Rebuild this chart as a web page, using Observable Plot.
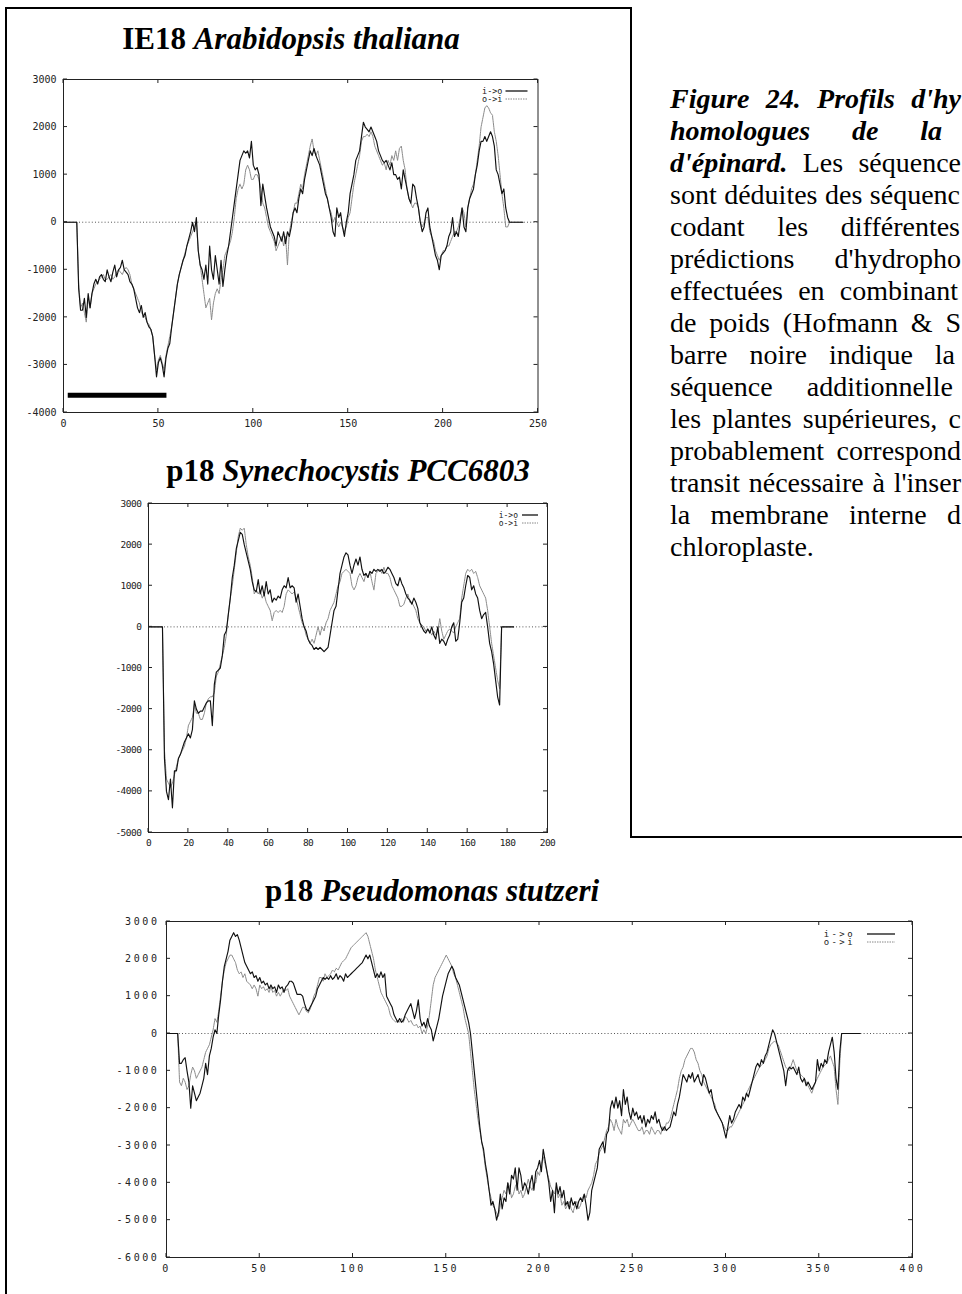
<!DOCTYPE html>
<html><head><meta charset="utf-8">
<script src="https://cdn.jsdelivr.net/npm/d3@7"></script>
<script src="https://cdn.jsdelivr.net/npm/@observablehq/plot@0.6"></script>
<style>
html,body{margin:0;padding:0;width:962px;height:1294px;overflow:hidden;background:#fff;}
.rule{position:absolute;background:#000;}
.title{position:absolute;font-family:"Liberation Serif","Times New Roman",serif;font-weight:bold;font-size:31px;line-height:31px;white-space:nowrap;color:#000;text-align:center;width:600px;}
.title i{font-style:italic;}
.cap{position:absolute;left:670px;font-family:"Liberation Serif","Times New Roman",serif;font-size:28px;line-height:32px;height:32px;text-align:justify;text-align-last:justify;color:#000;white-space:normal;}
.cap.last{text-align:left;text-align-last:left;}
.cap b{font-weight:bold;font-style:italic;}
.p3 g[aria-label="x-axis tick label"] text,.p3 g[aria-label="y-axis tick label"] text{letter-spacing:2.6px;}
.p2 g[aria-label="x-axis tick label"] text,.p2 g[aria-label="y-axis tick label"] text{letter-spacing:-0.5px;}
</style></head><body>
<script>
// ---------------- DATA ----------------
const legendLabels = ["i->o", "o->i"];

const ie18Title = ["IE18", "Arabidopsis thaliana"];
const synTitle = ["p18", "Synechocystis PCC6803"];
const pseTitle = ["p18", "Pseudomonas stutzeri"];

// IE18 Arabidopsis thaliana, hydropathy per residue (residue = index)
const ie18_io = [
0,0,0,0,0,0,0,0,
-1400,-1850,-1850,-1600,-2000,-1500,-1800,-1500,-1300,-1200,
-1300,-1150,-1100,-1200,-1250,-1000,-1150,-1250,-1050,-900,
-1150,-1000,-950,-800,-1000,-1050,-1100,-1250,-1300,-1400,
-1600,-1800,-1900,-1750,-2000,-1900,-2100,-2200,-2250,-2400,
-2800,-3250,-2950,-2850,-3000,-3250,-2850,-2650,-2550,-2200,
-1900,-1600,-1300,-1100,-950,-800,-700,-500,-350,-200,
0,-200,100,-600,-900,-1000,-1200,-900,-1300,-500,
-1000,-1200,-700,-1000,-1300,-800,-1350,-1000,-700,-500,
-200,100,400,700,1000,1300,1400,1500,1450,1500,
1350,1700,1200,1100,1150,1000,350,800,550,300,
100,-100,-200,-300,-500,-200,-300,-400,-200,-450,
-200,-300,-100,200,300,200,500,700,600,900,
1100,1300,1500,1400,1550,1400,1300,1200,1000,800,
600,500,300,100,-200,-300,300,100,200,-100,
-300,0,200,600,800,1000,1300,1400,1500,1800,
2100,2000,1950,1900,2000,1900,1800,1700,1500,1400,
1300,1250,1300,1200,1100,1250,1000,1000,900,950,
700,1100,900,700,500,400,800,750,500,300,
0,-200,-100,200,300,-100,-300,-500,-700,-800,
-1000,-700,-650,-600,-500,-300,-200,100,-300,-200,
-300,0,300,-100,-200,300,500,600,700,1000,
1200,1500,1700,1700,1800,1700,1800,1900,1800,1600,
1100,1000,800,600,700,300,100,0,
0,0,0,0,0,0,0];
const ie18_oi = [
0,0,0,0,0,0,0,0,
-1300,-1800,-1700,-1900,-2100,-1600,-1800,-1500,-1400,-1300,
-1250,-1200,-1150,-1100,-1200,-1200,-1150,-1100,-1200,-1150,
-1050,-1000,-1050,-1100,-1000,-950,-1000,-1100,-1300,-1400,
-1500,-1600,-1700,-1900,-1950,-2000,-2100,-2150,-2250,-2400,
-2800,-3100,-2900,-2800,-2950,-3100,-2800,-2600,-2400,-2200,
-1900,-1600,-1300,-1100,-950,-800,-650,-500,-400,-300,
-200,-100,0,-600,-900,-1200,-1500,-1800,-1700,-1600,
-2050,-1700,-1500,-1400,-1500,-1200,-1000,-700,-600,-500,
-400,-200,100,500,700,800,700,800,1100,1200,
1100,900,900,1000,1000,900,700,400,300,100,
-100,-200,-300,-400,-600,-500,-400,-300,-500,-300,
-900,-200,0,200,400,400,600,800,700,1000,
1200,1400,1600,1750,1500,1400,1500,1300,1100,900,
700,500,300,200,0,100,0,-100,0,-100,
-200,-100,100,200,500,800,1000,1200,1400,1700,
1800,1800,1850,1800,1900,1800,1600,1500,1400,1300,
1200,1250,1100,1300,1200,1400,1300,1500,1300,1550,
1600,1300,1100,700,500,400,300,400,400,300,
0,-100,0,100,100,-200,-300,-400,-600,-700,
-800,-700,-600,-600,-500,-500,-400,-300,-200,-200,
-100,100,300,200,-100,300,500,700,800,1000,
1300,1600,2000,2200,2400,2450,2400,2300,2250,1900,
1700,1400,1000,600,300,-100,-100,0,
0,0,0,0,0,0,0];
// black bar: additional N-terminal sequence of higher plants
const transitBar = [{x1: 2.5, x2: 54.5, y: -3640}];

// p18 Synechocystis PCC6803
const syn_io = [
0,0,0,0,0,0,0,0,
-3200,-4000,-4200,-3700,-4400,-3500,-3500,-3200,-3100,-2950,
-2800,-2700,-2600,-2700,-2500,-1800,-2000,-2100,-2050,-2050,
-1950,-1850,-1800,-1800,-2400,-1400,-1100,-1050,-1000,-700,
-200,-100,300,700,1200,1500,1900,2100,2300,2250,
2000,1800,1600,1400,1100,900,850,1150,800,1000,
750,1100,800,900,600,700,650,750,700,900,
1000,950,1200,950,1000,950,600,800,500,200,
0,-100,-300,-400,-450,-550,-500,-550,-500,-550,
-600,-550,-500,-200,100,400,500,900,1300,1500,
1700,1800,1750,1500,1300,1500,1650,1500,1700,1400,
1250,1300,1200,1350,1300,1400,1350,1400,1350,1400,
1300,1350,1450,1400,1300,1200,1050,1000,1200,1050,
950,800,700,650,550,700,600,450,100,0,
-100,-150,-50,-150,0,-200,-300,0,-400,-300,
-350,-450,-300,-200,0,100,-350,-300,100,600,
700,1000,1250,1200,900,1000,800,700,400,200,
300,350,0,-400,-600,-900,-1300,-1700,-1900,0,
0,0,0,0,0,0];
const syn_oi = [
0,0,0,0,0,0,0,0,
-3000,-3700,-3800,-3900,-3800,-3600,-3400,-3200,-3100,-3000,
-2900,-2700,-2400,-2300,-2200,-1900,-2100,-2100,-2250,-2250,
-2100,-1850,-1750,-1700,-1700,-1600,-1200,-1100,-900,-700,
-500,-200,300,700,1000,1400,1800,2200,2400,2350,
2400,2000,1700,1500,1200,800,900,800,900,700,
800,600,500,400,150,350,400,350,400,350,
500,800,900,850,800,850,700,500,300,100,
0,-200,-300,-400,-300,-400,-200,0,-200,0,
-100,100,200,400,500,600,800,1000,1100,1300,
1350,1400,1350,1300,1000,900,1000,1200,1300,1200,
1100,1300,1200,1350,1100,900,1300,1350,1400,1300,
1450,1300,1300,1200,1000,900,800,700,500,500,
550,700,800,600,600,500,400,200,100,50,
0,-100,-50,-100,-200,-100,-200,-100,200,-100,
-300,-200,-100,-50,-100,-150,0,100,200,700,
1000,1300,1400,1350,1400,1300,1350,1200,1000,900,
800,700,400,0,-400,-700,-1000,-1300,-1500,0,
0,0,0,0,0,0];

// p18 Pseudomonas stutzeri
const pse_io = [
0,0,0,0,0,0,0,
-800,-800,-700,-650,-1000,-1300,-2000,-1400,-1600,-1800,
-1700,-1600,-1400,-1200,-800,-1100,-600,-400,-100,100,
0,500,900,1400,1800,2000,2200,2500,2600,2700,
2600,2650,2500,2300,2100,1900,1800,1700,1600,1650,
1500,1550,1400,1500,1350,1400,1300,1350,1200,1300,
1200,1250,1100,1300,1200,1250,1100,1250,1300,1400,
1400,1350,1200,1050,1050,1050,1000,800,650,600,
700,800,900,1000,1200,1300,1400,1500,1450,1500,
1450,1550,1450,1500,1600,1450,1550,1500,1400,1600,
1500,1550,1600,1650,1700,1750,1800,1850,1900,2000,
2100,2000,2100,1900,1700,1500,1600,1500,1650,1500,
1600,1000,900,800,700,500,400,300,400,300,
350,500,600,700,800,600,400,600,900,400,
200,300,150,400,200,100,-200,0,200,400,
700,1000,1200,1400,1600,1700,1800,1700,1500,1400,
1300,1100,900,700,500,300,0,-500,-1000,-1500,
-2000,-2500,-2900,-3100,-3500,-3800,-4200,-4600,-4500,-4700,
-5000,-4800,-4300,-4700,-4400,-4500,-4000,-4300,-3800,-3900,
-3600,-4200,-3600,-3800,-4200,-4000,-4100,-4300,-4000,-3800,
-4200,-3700,-3600,-3400,-3700,-3100,-3400,-3700,-4000,-4500,
-4200,-4800,-4000,-4300,-4100,-4400,-4200,-4600,-4500,-4700,
-4400,-4600,-4500,-4700,-4500,-4400,-4500,-4300,-4600,-5000,
-4800,-4200,-4000,-3800,-3600,-3100,-3000,-2900,-3200,-2700,
-2600,-2000,-1800,-2000,-1700,-2000,-1800,-2200,-1500,-1900,
-1700,-2100,-2300,-2000,-2200,-2100,-2300,-2200,-2400,-2200,
-2500,-2300,-2400,-2200,-2300,-2100,-2400,-2300,-2500,-2600,
-2500,-2600,-2550,-2500,-2300,-2100,-2200,-1900,-1700,-1400,
-1100,-1200,-1300,-1100,-1200,-1050,-1300,-1200,-1100,-1300,
-1400,-1100,-1200,-1400,-1600,-1500,-1800,-2000,-2100,-2200,
-2300,-2400,-2600,-2800,-2500,-2200,-2400,-2300,-2100,-2000,
-1900,-2000,-1700,-1800,-1600,-1700,-1500,-1300,-1100,-900,
-800,-900,-700,-800,-600,-500,-300,-100,100,0,
-200,-400,-600,-800,-1000,-1400,-1000,-900,-950,-900,
-1000,-1100,-900,-1200,-1300,-1200,-1400,-1300,-1400,-1500,
-1400,-1300,-700,-1000,-800,-900,-700,-800,-500,-300,
-100,-500,-1200,-1500,-500,
0,0,0,0,0,0,0,0,0,0,0];
const pse_oi = [
0,0,0,0,0,0,0,
-1300,-1400,-1200,-1300,-1500,-1400,-1100,-900,-1000,-1200,
-1100,-1000,-900,-700,-500,-400,-300,-100,100,400,
300,600,1000,1400,1700,1900,2000,2100,2100,2000,
1900,1700,1600,1650,1500,1600,1400,1350,1300,1200,
1300,1200,1000,1300,1200,1250,1150,1200,1100,1250,
1100,1150,1000,1100,1000,1100,1200,1150,1200,1000,
900,800,700,600,500,600,700,700,600,550,
650,800,1000,1100,1300,1500,1500,1400,1600,1500,
1550,1600,1700,1650,1750,1700,1800,1900,1950,2000,
2100,2200,2300,2350,2400,2450,2500,2550,2600,2650,
2700,2600,2400,2200,2000,1700,1500,1300,1100,1000,
900,800,700,500,400,350,300,350,300,400,
300,450,400,300,350,250,200,250,150,200,
0,100,0,200,500,900,1300,1500,1600,1700,
1800,1900,2000,2100,2000,1900,1800,1600,1500,1300,
1100,900,700,400,200,0,-500,-1000,-1500,-1900,
-2300,-2600,-2900,-3200,-3600,-3900,-4200,-4400,-4600,-4700,
-4800,-4900,-4600,-4400,-4200,-4300,-4000,-4100,-4400,-4300,
-4100,-4000,-4300,-4200,-4400,-4300,-4100,-3900,-4100,-4200,
-4000,-4000,-3700,-3800,-3500,-3300,-3500,-3700,-3900,-4100,
-4200,-4300,-4100,-4400,-4300,-4600,-4500,-4700,-4600,-4500,
-4700,-4800,-4600,-4500,-4700,-4600,-4400,-4300,-4400,-4200,
-4100,-4000,-3800,-3500,-3400,-3200,-3100,-3000,-2800,-2600,
-2500,-2300,-2400,-2600,-2300,-2500,-2600,-2700,-2300,-2400,
-2300,-2500,-2400,-2300,-2400,-2500,-2600,-2600,-2500,-2700,
-2600,-2600,-2700,-2500,-2600,-2700,-2600,-2600,-2700,-2500,
-2600,-2400,-2400,-2300,-2100,-1900,-1700,-1500,-1200,-1000,
-900,-700,-600,-500,-400,-400,-500,-700,-800,-1000,
-1100,-1300,-1400,-1500,-1600,-1700,-1800,-1900,-2100,-2200,
-2300,-2400,-2500,-2600,-2600,-2500,-2500,-2400,-2300,-2200,
-2100,-2000,-1900,-1800,-1600,-1500,-1400,-1300,-1200,-1100,
-1000,-900,-850,-800,-700,-600,-400,-300,-250,-200,
-250,-300,-450,-600,-750,-900,-950,-1000,-850,-700,
-850,-1000,-1050,-1100,-1150,-1200,-1300,-1400,-1500,-1600,
-1450,-1300,-1200,-1100,-1000,-900,-850,-800,-700,-600,
-750,-900,-1500,-1900,-800,
0,0,0,0,0,0,0,0,0,0,0];

// tick values
const ie18_xTicks = [0, 50, 100, 150, 200, 250];
const ie18_yTicks = [-4000, -3000, -2000, -1000, 0, 1000, 2000, 3000];
const syn_xTicks = [0, 20, 40, 60, 80, 100, 120, 140, 160, 180, 200];
const syn_yTicks = [-5000, -4000, -3000, -2000, -1000, 0, 1000, 2000, 3000];
const pse_xTicks = [0, 50, 100, 150, 200, 250, 300, 350, 400];
const pse_yTicks = [-6000, -5000, -4000, -3000, -2000, -1000, 0, 1000, 2000, 3000];

// caption lines (as visible; the original block is cut at the right edge)
const captionLines = [
  {html: "<b>Figure 24. Profils d'hy</b>", right: 961},
  {html: "<b>homologues de la</b>", right: 942},
  {html: "<b>d'épinard.</b> Les séquence", right: 961},
  {html: "sont déduites des séquenc", right: 960},
  {html: "codant les différentes", right: 960},
  {html: "prédictions d'hydropho", right: 961},
  {html: "effectuées en combinant", right: 958},
  {html: "de poids (Hofmann &amp; S", right: 961},
  {html: "barre noire indique la", right: 955},
  {html: "séquence additionnelle", right: 953},
  {html: "les plantes supérieures, c", right: 961},
  {html: "probablement correspond", right: 961},
  {html: "transit nécessaire à l'inser", right: 961},
  {html: "la membrane interne d", right: 961},
  {html: "chloroplaste.", right: null}
];

// ---------------- LAYOUT ----------------
const NS = "http://www.w3.org/2000/svg";
function rule(l, t, w, h) {
  const d = document.createElement("div");
  d.className = "rule";
  Object.assign(d.style, {left: l + "px", top: t + "px", width: w + "px", height: h + "px"});
  document.body.appendChild(d);
}
rule(5, 7, 2, 1287);
rule(5, 7, 627, 2);
rule(630, 7, 2, 831);
rule(630, 836, 332, 2);

function title(parts, cx, top) {
  const d = document.createElement("div");
  d.className = "title";
  d.style.left = (cx - 300) + "px";
  d.style.top = top + "px";
  d.innerHTML = parts[0] + " <i>" + parts[1] + "</i>";
  document.body.appendChild(d);
}
title(ie18Title, 291, 23);
title(synTitle, 348, 455);
title(pseTitle, 432, 875);

captionLines.forEach((ln, i) => {
  const d = document.createElement("div");
  d.className = "cap" + (ln.right === null ? " last" : "");
  d.style.top = (83 + i * 32) + "px";
  d.style.width = (ln.right === null ? 280 : ln.right - 670) + "px";
  d.innerHTML = ln.html;
  document.body.appendChild(d);
});

function innerTicks(xt, yt, len) {
  return (index, scales, values, dims) => {
    const x0 = dims.marginLeft, x1 = dims.width - dims.marginRight;
    const y0 = dims.marginTop, y1 = dims.height - dims.marginBottom;
    let d = "";
    for (const t of xt) { const p = scales.x(t); d += `M${p},${y1}v${-len}M${p},${y0}v${len}`; }
    for (const t of yt) { const p = scales.y(t); d += `M${x0},${p}h${len}M${x1},${p}h${-len}`; }
    const path = document.createElementNS(NS, "path");
    path.setAttribute("d", d);
    path.setAttribute("stroke", "#222");
    path.setAttribute("fill", "none");
    path.setAttribute("stroke-width", "1");
    return path;
  };
}

function legendMark(cfg) {
  return (index, scales, values, dims) => {
    const g = document.createElementNS(NS, "g");
    const xr = dims.width - dims.marginRight, yt = dims.marginTop;
    legendLabels.forEach((lab, k) => {
      const y = yt + cfg.y0 + k * cfg.dy;
      const t = document.createElementNS(NS, "text");
      t.textContent = lab;
      t.setAttribute("x", xr + cfg.textEnd);
      t.setAttribute("y", y);
      t.setAttribute("dy", "0.32em");
      t.setAttribute("text-anchor", "end");
      t.setAttribute("font-family", "DejaVu Sans Mono, monospace");
      t.setAttribute("font-size", cfg.fontSize);
      t.setAttribute("fill", "#222");
      if (cfg.spacing) t.setAttribute("letter-spacing", cfg.spacing);
      g.appendChild(t);
      const l = document.createElementNS(NS, "line");
      l.setAttribute("x1", xr + cfg.s0); l.setAttribute("x2", xr + cfg.s1);
      l.setAttribute("y1", y); l.setAttribute("y2", y);
      l.setAttribute("stroke", k === 0 ? "#111" : "#888");
      l.setAttribute("stroke-width", k === 0 ? 1.3 : 1);
      if (k === 1) l.setAttribute("stroke-dasharray", "1.5,1");
      g.appendChild(l);
    });
    return g;
  };
}

function profile(o) {
  const [L, T, R, B] = o.frame;
  const m = {l: 60, r: 14, t: 10, b: 26};
  const io = o.io.map((v, i) => ({res: i, v}));
  const oi = o.oi.map((v, i) => ({res: i, v}));
  const font = {fontFamily: "DejaVu Sans Mono, monospace", fontSize: o.fontSize, fill: "#222"};
  const chart = Plot.plot({
    width: R - L + m.l + m.r, height: B - T + m.t + m.b,
    marginLeft: m.l, marginRight: m.r, marginTop: m.t, marginBottom: m.b,
    className: o.cls,
    style: {background: "transparent", overflow: "visible"},
    x: {domain: o.xDomain, label: null},
    y: {domain: o.yDomain, label: null},
    marks: [
      Plot.ruleY([0], {stroke: "#555", strokeWidth: 1, strokeDasharray: "1,2.2"}),
      Plot.line(oi, {x: "res", y: "v", stroke: "#8a8a8a", strokeWidth: 1, strokeDasharray: "1.6,0.8"}),
      Plot.line(io, {x: "res", y: "v", stroke: "#111", strokeWidth: 1.15}),
      ...(o.extras || []),
      Plot.frame({stroke: "#222", strokeWidth: 1}),
      innerTicks(o.xTicks, o.yTicks, 4),
      Plot.axisX(o.xTicks, {label: null, tickSize: 0, tickPadding: 7, tickFormat: d => String(d), ...font}),
      Plot.axisY(o.yTicks, {label: null, tickSize: 0, tickPadding: 7, tickFormat: d => String(d), ...font}),
      legendMark(o.legend)
    ]
  });
  chart.style.position = "absolute";
  chart.style.left = (L - m.l) + "px";
  chart.style.top = (T - m.t) + "px";
  document.body.appendChild(chart);
}

profile({
  io: ie18_io, oi: ie18_oi, frame: [62.5, 79, 537, 412], cls: "p1",
  xDomain: [0, 250], yDomain: [-4000, 3000], xTicks: ie18_xTicks, yTicks: ie18_yTicks, fontSize: 10,
  legend: {y0: 12, dy: 8, textEnd: -35, s0: -32, s1: -10, fontSize: 8.5},
  extras: [Plot.ruleY(transitBar, {x1: "x1", x2: "x2", y: "y", stroke: "#000", strokeWidth: 5})]
});
profile({
  io: syn_io, oi: syn_oi, frame: [148, 503, 547, 832], cls: "p2",
  xDomain: [0, 200], yDomain: [-5000, 3000], xTicks: syn_xTicks, yTicks: syn_yTicks, fontSize: 9.5,
  legend: {y0: 12, dy: 8, textEnd: -29, s0: -25, s1: -9, fontSize: 8}
});
profile({
  io: pse_io, oi: pse_oi, frame: [166, 921, 912, 1257], cls: "p3",
  xDomain: [0, 400], yDomain: [-6000, 3000], xTicks: pse_xTicks, yTicks: pse_yTicks, fontSize: 10,
  legend: {y0: 13, dy: 8, textEnd: -57, s0: -45, s1: -17, fontSize: 9, spacing: 2.4}
});
</script>
</body></html>
